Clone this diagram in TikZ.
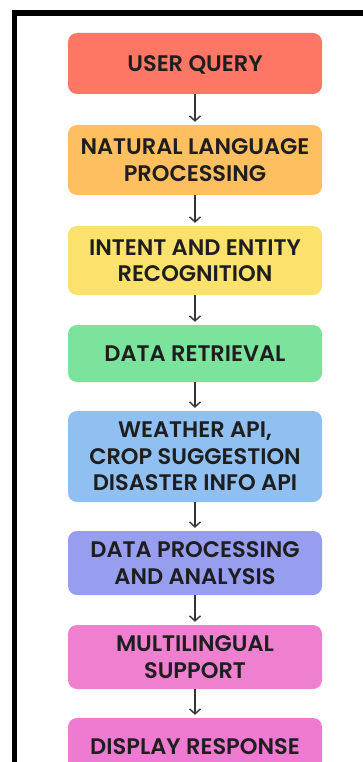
\documentclass[tikz,border=0pt]{standalone}
\usepackage{fontspec}
\setmainfont{Poppins}[BoldFont={Poppins SemiBold}]
\usetikzlibrary{arrows.meta}
\definecolor{cRed}{HTML}{FE7666}
\definecolor{cOrange}{HTML}{FDBF5F}
\definecolor{cYellow}{HTML}{FCE26C}
\definecolor{cGreen}{HTML}{7BE39B}
\definecolor{cBlue}{HTML}{90BFF1}
\definecolor{cPurple}{HTML}{979EF0}
\definecolor{cPink}{HTML}{EE80CF}
\definecolor{cPinkB}{HTML}{EE7BD1}
\definecolor{cText}{HTML}{1E1E1E}
\begin{document}
\begin{tikzpicture}[x=1pt,y=-1pt,
  flowbox/.style={rounded corners=9pt, minimum width=254pt, inner sep=0pt,
    align=center, text=cText, text depth=-5pt,
    font=\fontsize{22.5}{26.5}\selectfont\bfseries},
  flowarrow/.style={draw=cText!90, line width=1.4pt, shorten >=3pt,
    -{Straight Barb[length=5pt,width=11pt,line width=1.4pt]}}]
\useasboundingbox (0,0) rectangle (363,762);
\clip (0,0) rectangle (363,762);
\fill[white] (0,0) rectangle (363,762);
\draw[line width=5.5pt] (14.5,762) -- (14.5,13) -- (363,13);
\node[flowbox, fill=cRed, minimum height=61pt] (n1) at (195,63.5) {USER QUERY};
\node[flowbox, fill=cOrange, minimum height=70pt] (n2) at (195,160) {NATURAL LANGUAGE\\PROCESSING};
\node[flowbox, fill=cYellow, minimum height=69pt] (n3) at (195,260.5) {INTENT AND ENTITY\\RECOGNITION};
\node[flowbox, fill=cGreen, minimum height=57pt] (n4) at (195,353.5) {DATA RETRIEVAL};
\node[flowbox, fill=cBlue, minimum height=91pt] (n5) at (195,456.5) {WEATHER API,\\CROP SUGGESTION\\DISASTER INFO API};
\node[flowbox, fill=cPurple, minimum height=64pt] (n6) at (195,563) {DATA PROCESSING\\AND ANALYSIS};
\node[flowbox, fill=cPink, minimum height=64pt] (n7) at (195,657) {MULTILINGUAL\\SUPPORT};
\node[flowbox, fill=cPinkB, minimum height=57pt] (n8) at (195,746.5) {DISPLAY RESPONSE};
\foreach \a/\b in {n1/n2,n2/n3,n3/n4,n4/n5,n5/n6,n6/n7,n7/n8}
  \draw[flowarrow] (\a.south) -- (\b.north);
\end{tikzpicture}
\end{document}
